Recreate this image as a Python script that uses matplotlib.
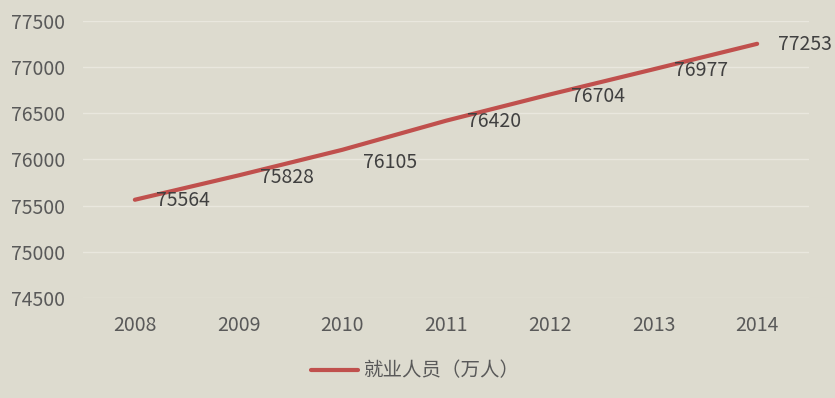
import matplotlib
matplotlib.use("Agg")
import matplotlib.pyplot as plt
from matplotlib.lines import Line2D

plt.rcParams['font.family'] = ['Noto Sans CJK SC', 'DejaVu Sans']

years = ['2008', '2009', '2010', '2011', '2012', '2013', '2014']
employed = [75564, 75828, 76105, 76420, 76704, 76977, 77253]
series_name = '就业人员（万人）'
yticks = [74500, 75000, 75500, 76000, 76500, 77000, 77500]

# label nudges (pixels) as placed in the reference
label_dy = [-1, -2, -13, -1, -2, -1, -1]

bg = '#dddbcf'
grid = '#e9e7de'
txt = '#595959'
red = '#c0504d'

W, H = 835, 398
fig = plt.figure(figsize=(W/100, H/100), dpi=100, facecolor=bg)
ax = fig.add_axes([83/W, 1-298/H, (809-83)/W, (298-21)/H])
ax.set_facecolor(bg)

x = list(range(len(years)))
ax.plot(x, employed, color=red, lw=3.0, solid_capstyle='round')
for xi, v, dy in zip(x, employed, label_dy):
    ax.annotate(f'{v}', (xi, v), xytext=(21, dy), textcoords='offset pixels',
                ha='left', va='center', color='#404040', fontsize=14)

ax.set_xlim(-0.5, len(years)-0.5)
ax.set_ylim(74500, 77500)
ax.set_yticks(yticks)
ax.set_yticklabels([str(t) for t in yticks], color=txt, fontsize=14)
ax.set_xticks(x)
ax.set_xticklabels(years, color=txt, fontsize=14)
ax.tick_params(length=0)
ax.tick_params(axis='x', pad=12)
ax.tick_params(axis='y', pad=13)
ax.grid(axis='y', color=grid, lw=1)
ax.set_axisbelow(True)
for s in ax.spines.values():
    s.set_visible(False)

handle = Line2D([0], [0], color=red, lw=3.0, solid_capstyle='round')
fig.legend([handle], [series_name], loc='center', bbox_to_anchor=(415/W, 1-371/H),
           frameon=False, fontsize=14, labelcolor=txt, handlelength=2.4, handletextpad=0.25)

fig.savefig('out.png', dpi=100, facecolor=bg)
